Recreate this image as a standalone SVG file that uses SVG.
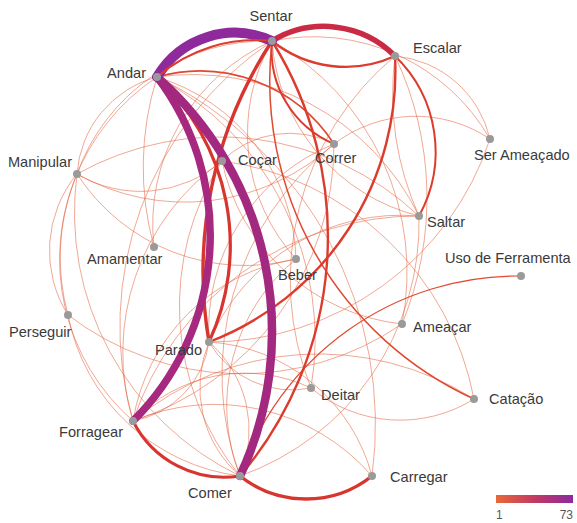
<svg xmlns="http://www.w3.org/2000/svg" width="577" height="523" viewBox="0 0 577 523">
<defs>
<linearGradient id="scale" x1="0" y1="0" x2="1" y2="0">
<stop offset="0" stop-color="#e8683a"/>
<stop offset="0.5" stop-color="#c23a62"/>
<stop offset="1" stop-color="#8c2a9e"/>
</linearGradient>
<style>
path{fill:none;stroke-linecap:round}
.e1{stroke:#e35a36;stroke-width:0.75;opacity:0.7}
.e2{stroke:#e0482f;stroke-width:1.5}
.e3{stroke:#dc3c2e;stroke-width:2.4}
.e4{stroke:#d8352f;stroke-width:3.4}
.node circle{fill:#9a9a9a}
text{font-family:"Liberation Sans",Arial,sans-serif;font-size:14.6px;fill:#3a3a3a}
.leg{font-size:12px;fill:#555}
</style>
</defs>
<rect width="577" height="523" fill="#fff"/>
<g id="edges">
<!-- light links -->
<path class="e1" d="M157,77 A107,107 0 0 0 77,174"/>
<path class="e1" d="M272,41 A200,200 0 0 0 77,174"/>
<path class="e1" d="M77,174 A124,124 0 0 0 222,161"/>
<path class="e1" d="M77,174 A220,220 0 0 0 334,144"/>
<path class="e1" d="M77,174 A120,120 0 0 0 68,315"/>
<path class="e1" d="M77,174 A215,215 0 0 0 133,421"/>
<path class="e1" d="M77,174 A292,292 0 0 0 240,476"/>
<path class="e1" d="M77,174 A200,200 0 0 0 296,259"/>
<path class="e1" d="M77,174 A291,291 0 0 1 419,216"/>
<path class="e1" d="M154,247 A300,300 0 0 1 157,77"/>
<path class="e1" d="M154,247 A200,200 0 0 1 272,41"/>
<path class="e1" d="M296,259 A186,186 0 0 1 272,41"/>
<path class="e1" d="M157,77 A195,195 0 0 1 296,259"/>
<path class="e1" d="M157,77 A216,216 0 0 0 68,315"/>
<path class="e1" d="M395,56 A291,291 0 0 0 311,388"/>
<path class="e1" d="M311,388 A139,139 0 0 0 474,399"/>
<path class="e1" d="M133,421 A208,208 0 0 1 372,476"/>
<path class="e1" d="M157,77 A385,385 0 0 1 372,476"/>
<path class="e1" d="M209,342 A180,180 0 0 1 372,476"/>
<path class="e1" d="M133,421 A290,290 0 0 1 474,399"/>
<path class="e1" d="M222,161 A295,295 0 0 1 474,399"/>
<path class="e1" d="M272,41 A265,265 0 0 1 402,324"/>
<path class="e1" d="M222,161 A206,206 0 0 0 402,324"/>
<path class="e1" d="M395,56 A330,330 0 0 1 402,324"/>
<path class="e1" d="M68,315 A284,284 0 0 0 402,324"/>
<path class="e1" d="M395,56 A107,107 0 0 1 490,139"/>
<path class="e1" d="M272,41 A203,203 0 0 1 490,139"/>
<path class="e1" d="M334,144 A133,133 0 0 1 490,139"/>
<path class="e1" d="M490,139 A295,295 0 0 1 209,342"/>
<path class="e1" d="M395,56 A300,300 0 0 0 419,216"/>
<path class="e1" d="M272,41 A194,194 0 0 0 419,216"/>
<path class="e1" d="M419,216 A208,208 0 0 0 209,342"/>
<path class="e1" d="M419,216 A299,299 0 0 0 133,421"/>
<path class="e1" d="M222,161 A268,268 0 0 0 240,476"/>
<path class="e1" d="M334,144 A293,293 0 0 0 240,476"/>
<path class="e1" d="M272,41 A344,344 0 0 0 133,421"/>
<path class="e1" d="M133,421 A234,234 0 0 1 222,161"/>
<path class="e1" d="M133,421 A195,195 0 0 1 296,259"/>
<path class="e1" d="M133,421 A291,291 0 0 0 334,144"/>
<path class="e1" d="M133,421 A154,154 0 0 1 311,388"/>
<path class="e1" d="M240,476 A200,200 0 0 1 68,315"/>
<path class="e1" d="M240,476 A117,117 0 0 1 209,342"/>
<path class="e1" d="M209,342 A117,117 0 0 1 240,476"/>
<path class="e1" d="M157,77 A295,295 0 0 1 311,388"/>
<path class="e1" d="M296,259 A190,190 0 0 0 240,476"/>
<path class="e1" d="M334,144 A199,199 0 0 0 209,342"/>
<path class="e1" d="M157,77 A252,252 0 0 1 419,216"/>
<path class="e1" d="M222,161 A96,96 0 0 1 334,144"/>
<path class="e1" d="M240,476 A268,268 0 0 0 419,216"/>
<path class="e1" d="M209,342 A95,95 0 0 0 311,388"/>
<path class="e1" d="M133,421 A93,93 0 0 0 209,342"/>
<!-- mid-weight links -->
<path class="e2" d="M272,41 A350,350 0 0 0 474,399"/>
<path class="e2" d="M521,276 A293,293 0 0 0 240,476" style="stroke-width:1.2"/>
<path class="e2" d="M157,77 A160,160 0 0 1 334,144" style="stroke-width:1.8"/>
<path class="e3" d="M272,41 A102,102 0 0 0 334,144" style="stroke-width:2"/>
<path class="e3" d="M395,56 A133,133 0 0 1 419,216" style="stroke-width:2"/>
<path class="e3" d="M395,56 A290,290 0 0 1 209,342"/>
<path class="e3" d="M272,41 A370,370 0 0 1 240,476"/>
<path class="e3" d="M272,41 A118,118 0 0 0 395,56"/>
<!-- heavy links -->
<path class="e4" d="M133,421 A102,102 0 0 0 240,476" style="stroke-width:3"/>
<path class="e4" d="M240,476 A106,106 0 0 0 372,476"/>
<path class="e4" d="M157,77 A230,230 0 0 1 209,342" style="stroke-width:3.2"/>
<path class="e4" d="M272,41 A420,420 0 0 0 209,342"/>
<path d="M272,41 A100,100 0 0 1 395,56" stroke="#c92b45" stroke-width="5.5"/>
<path d="M157,77 A262,262 0 0 1 133,421" stroke="#a6287f" stroke-width="7.5"/>
<path d="M157,77 A340,340 0 0 1 240,476" stroke="#a3287f" stroke-width="8.5"/>
<path d="M157,77 A90,90 0 0 1 272,41" stroke="#8e2a9c" stroke-width="10"/>
<path class="e3" d="M157,77 A150,150 0 0 1 272,41" style="stroke-width:2"/>
</g>
<g id="n-sentar" class="node"><circle cx="272" cy="41" r="4"/><text x="271" y="21" text-anchor="middle">Sentar</text></g>
<g id="n-andar" class="node"><circle cx="157" cy="77" r="4"/><text x="146" y="78" text-anchor="end">Andar</text></g>
<g id="n-escalar" class="node"><circle cx="395" cy="56" r="4"/><text x="413" y="53">Escalar</text></g>
<g id="n-ser-ameacado" class="node"><circle cx="490" cy="139" r="4"/><text x="474" y="160">Ser Ameaçado</text></g>
<g id="n-manipular" class="node"><circle cx="77" cy="174" r="4"/><text x="72" y="167" text-anchor="end">Manipular</text></g>
<g id="n-cocar" class="node"><circle cx="222" cy="161" r="4"/><text x="238" y="165">Coçar</text></g>
<g id="n-correr" class="node"><circle cx="334" cy="144" r="4"/><text x="315" y="163">Correr</text></g>
<g id="n-saltar" class="node"><circle cx="419" cy="216" r="4"/><text x="427" y="227">Saltar</text></g>
<g id="n-amamentar" class="node"><circle cx="154" cy="247" r="4"/><text x="87" y="264">Amamentar</text></g>
<g id="n-beber" class="node"><circle cx="296" cy="259" r="4"/><text x="278" y="280">Beber</text></g>
<g id="n-uso-ferramenta" class="node"><circle cx="521" cy="276" r="4"/><text x="445" y="263">Uso de Ferramenta</text></g>
<g id="n-perseguir" class="node"><circle cx="68" cy="315" r="4"/><text x="9" y="337">Perseguir</text></g>
<g id="n-ameacar" class="node"><circle cx="402" cy="324" r="4"/><text x="413" y="332">Ameaçar</text></g>
<g id="n-parado" class="node"><circle cx="209" cy="342" r="4"/><text x="155" y="355">Parado</text></g>
<g id="n-deitar" class="node"><circle cx="311" cy="388" r="4"/><text x="321" y="400">Deitar</text></g>
<g id="n-catacao" class="node"><circle cx="474" cy="399" r="4"/><text x="489" y="404">Catação</text></g>
<g id="n-forragear" class="node"><circle cx="133" cy="421" r="4"/><text x="59" y="437">Forragear</text></g>
<g id="n-comer" class="node"><circle cx="240" cy="476" r="4"/><text x="188" y="498">Comer</text></g>
<g id="n-carregar" class="node"><circle cx="372" cy="476" r="4"/><text x="390" y="482">Carregar</text></g>
<g id="legend">
<rect x="496" y="495" width="77" height="8" fill="url(#scale)"/>
<text class="leg" x="496" y="519">1</text>
<text class="leg" x="573" y="519" text-anchor="end">73</text>
</g>
</svg>
